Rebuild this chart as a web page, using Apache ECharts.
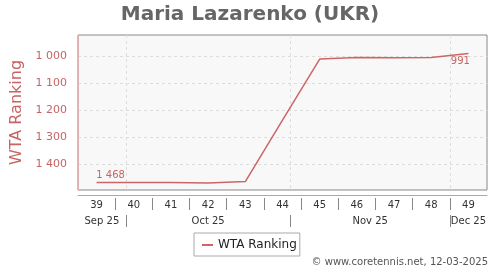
<!DOCTYPE html>
<html>
<head>
<meta charset="utf-8">
<script src="https://cdn.jsdelivr.net/npm/echarts@6/dist/echarts.min.js"></script>
<style>html,body{margin:0;padding:0;background:#fff}#c{width:500px;height:270px}</style>
</head>
<body>
<div id="c"></div>
<script>
var titleText = 'Maria Lazarenko (UKR)';
var seriesName = 'WTA Ranking';
var weeks = ['39','40','41','42','43','44','45','46','47','48','49'];
var ranking = [1468, 1468, 1468, 1470, 1465, 1238, 1012, 1006, 1007, 1006, 991];
var yTicks = [1000, 1100, 1200, 1300, 1400];
var months = ['Sep 25', 'Oct 25', 'Nov 25', 'Dec 25'];
var monthStarts = ['2025-10-01', '2025-11-01', '2025-12-01'];
var firstWeekStart = '2025-09-22';
var credit = '\u00a9 www.coretennis.net, 12-03-2025';

function fmt(v) { return String(v).replace(/\B(?=(\d{3})+(?!\d))/g, ' '); }
var DAY = 86400000;
var t0 = Date.parse(firstWeekStart);
var nW = weeks.length;
var bounds = monthStarts.map(function (d) { return (Date.parse(d) - t0) / DAY / 7; });
var edges = [0].concat(bounds).concat([nW]);
var monthMids = [];
for (var i = 0; i < months.length; i++) monthMids.push((edges[i] + edges[i + 1]) / 2);
var weekBounds = [], weekMids = [];
for (var j = 0; j < nW; j++) { weekMids.push(j + 0.5); if (j > 0) weekBounds.push(j); }

var lineColor = '#cc6666', txtColor = '#c86464';
var dataItems = ranking.map(function (v, k) {
  var it = { value: v };
  if (k === 0) it.label = { show: true, position: 'top', distance: 2, offset: [14, 0] };
  if (k === nW - 1) it.label = { show: true, position: 'bottom', distance: 3, offset: [-8, 0] };
  return it;
});

var chart = echarts.init(document.getElementById('c'), null, { renderer: 'canvas' });
chart.setOption({
  animation: false,
  textStyle: { fontFamily: 'DejaVu Sans' },
  title: { text: titleText, left: 'center', top: 0,
    textStyle: { fontSize: 20, fontWeight: 'bold', color: '#666', fontFamily: 'DejaVu Sans' } },
  grid: { left: 78, right: 13, top: 35, bottom: 80, show: true,
    backgroundColor: '#f8f8f8', borderColor: '#888', borderWidth: 1 },
  legend: { data: [seriesName], left: 194, top: 233, icon: 'rect', itemWidth: 11, itemHeight: 2,
    itemGap: 5, padding: [6, 3, 5, 8], borderColor: '#aaa', borderWidth: 1,
    textStyle: { fontSize: 12, color: '#222' } },
  xAxis: [
    { type: 'category', data: weeks, boundaryGap: true, position: 'bottom', offset: 5,
      axisLine: { show: true, lineStyle: { color: '#aaa', width: 1 } },
      axisTick: { show: false }, axisLabel: { show: false }, splitLine: { show: false } },
    { type: 'value', min: 0, max: nW, position: 'bottom', offset: 8,
      axisLine: { show: false },
      axisTick: { show: true, length: 12, customValues: weekBounds, lineStyle: { color: '#888' } },
      axisLabel: { show: true, customValues: weekMids, margin: 2, fontSize: 10, color: '#333',
        formatter: function (v) { return weeks[Math.round(v - 0.5)]; } },
      splitLine: { show: false } },
    { type: 'value', min: 0, max: nW, position: 'bottom', offset: 25,
      axisLine: { show: false },
      axisTick: { show: true, length: 12, customValues: bounds, lineStyle: { color: '#888' } },
      axisLabel: { show: true, customValues: monthMids, margin: 1, fontSize: 10, color: '#333',
        formatter: function (v) { for (var m = 0; m < monthMids.length; m++) if (Math.abs(monthMids[m] - v) < 1e-6) return months[m]; return ''; } },
      splitLine: { show: true, lineStyle: { color: '#ddd', type: [3, 3] } } }
  ],
  yAxis: { type: 'value', inverse: true, min: 923, max: 1496, offset: 5,
    name: seriesName, nameLocation: 'middle', nameGap: 45,
    nameTextStyle: { fontSize: 16, color: txtColor },
    axisLine: { show: true, lineStyle: { color: '#e0b0b0', width: 1 } },
    axisTick: { show: false, customValues: yTicks },
    axisLabel: { customValues: yTicks, margin: 6, fontSize: 11, color: txtColor, formatter: fmt },
    splitLine: { show: true, lineStyle: { color: '#ddd', type: [3, 3] } } },
  series: [{
    name: seriesName, type: 'line', xAxisIndex: 0, data: dataItems,
    showSymbol: true, symbol: 'circle', symbolSize: 0,
    lineStyle: { color: lineColor, width: 1.5 }, itemStyle: { color: lineColor },
    label: { show: false, fontSize: 10, color: txtColor, formatter: function (p) { return fmt(p.value); } }
  }],
  graphic: [{ type: 'text', right: 12, top: 257,
    style: { text: credit, fontSize: 10, fill: '#555', fontFamily: 'DejaVu Sans' } }]
});
</script>
</body>
</html>
